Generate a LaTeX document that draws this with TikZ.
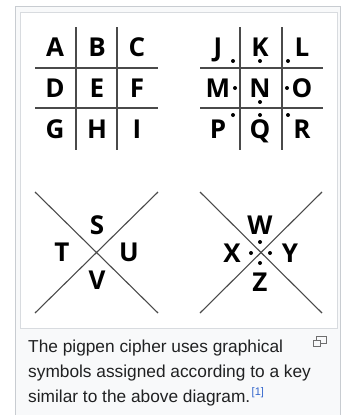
\documentclass[tikz,border=0pt]{standalone}
\usepackage{fontspec}
\usepackage{xcolor}
\setmainfont{Liberation Sans}
\newfontfamily\keyfont{Open Sans}
\definecolor{wikiframe}{HTML}{C8CCD1}
\definecolor{wikibg}{HTML}{F8F9FA}
\definecolor{wikitext}{HTML}{202122}
\definecolor{wikilink}{HTML}{3366CC}
\definecolor{penline}{HTML}{4A4A4A}

\begin{document}
\begin{tikzpicture}[x=1pt, y=-1pt,
    key/.style={
        font=\keyfont\bfseries\fontsize{26}{26}\selectfont,
        anchor=base, inner sep=0pt, text=black
    },
    pen/.style={penline, line width=1.4pt},
    cross/.style={penline, line width=1.1pt},
    pip/.style={fill=black},
    caption/.style={
        font=\fontsize{17.3}{25}\selectfont, anchor=base west,
        inner sep=0pt, text=wikitext
    },
]
\useasboundingbox (0,0) rectangle (345,415);

    % --- marco de la miniatura ---
    \draw[wikiframe, fill=wikibg, line width=1pt] (15,6) rectangle (340,420);
    \draw[wikiframe!70, fill=white, line width=0.8pt] (20,12) rectangle (337,328);

    % --- rejilla sin puntos ---
    \foreach \ch/\cx/\cy in {A/55/56, B/97/56, C/137/56,
                             D/55/97, E/97/97, F/137/97,
                             G/55/138, H/97/138, I/137/138}
        \node[key] (k\ch) at (\cx,\cy) {\ch};
    \draw[pen] (76,27) -- (76,150);
    \draw[pen] (117,27) -- (117,150);
    \draw[pen] (35,68) -- (158,68);
    \draw[pen] (35,108) -- (158,108);

    % --- rejilla con puntos ---
    \foreach \ch/\cx/\cy in {J/218/56, K/260/56, L/302/56,
                             M/218/97, N/260/97, O/302/97,
                             P/218/138, Q/260/138, R/302/138}
        \node[key] (k\ch) at (\cx,\cy) {\ch};
    \draw[pen] (240,27) -- (240,150);
    \draw[pen] (282,27) -- (282,150);
    \draw[pen] (200,68) -- (323,68);
    \draw[pen] (200,108) -- (323,108);
    \foreach \px/\py in {233/61, 260/61, 288/61,
                         235/88, 260/102, 287/88,
                         233/115, 260/115, 288/115}
        \fill[pip] (\px,\py) circle (2pt);

    % --- aspa sin puntos ---
    \draw[cross] (35,192) -- (158,313);
    \draw[cross] (158,192) -- (35,313);
    \node[key] (kS) at (97,234) {S};
    \node[key] (kT) at (62,261) {T};
    \node[key] (kU) at (129,261) {U};
    \node[key] (kV) at (97,289) {V};

    % --- aspa con puntos ---
    \draw[cross] (200,192) -- (322,313);
    \draw[cross] (322,192) -- (200,313);
    \node[key] (kW) at (260,234) {W};
    \node[key] (kX) at (232,262) {X};
    \node[key] (kY) at (290,262) {Y};
    \node[key] (kZ) at (260,291) {Z};
    \foreach \px/\py in {260/242, 251/253, 270/253, 260/263}
        \fill[pip] (\px,\py) circle (2pt);

    % --- leyenda ---
    \node[caption] (cap1) at (28,352) {The pigpen cipher uses graphical};
    \node[caption] (cap2) at (28,377) {symbols assigned according to a key};
    \node[caption] (cap3) at (28,402) {similar to the above diagram.};
    \node[caption, font=\fontsize{11}{11}\selectfont, text=wikilink,
          anchor=base west, xshift=1pt] (ref) at ([yshift=7pt]cap3.base east) {[1]};

    % --- icono de ampliar ---
    \draw[penline!80, line width=0.9pt] (316,336) rectangle (326,343);
    \draw[penline!80, line width=0.9pt, fill=wikibg] (313,340) rectangle (320,346);

\end{tikzpicture}
\end{document}
